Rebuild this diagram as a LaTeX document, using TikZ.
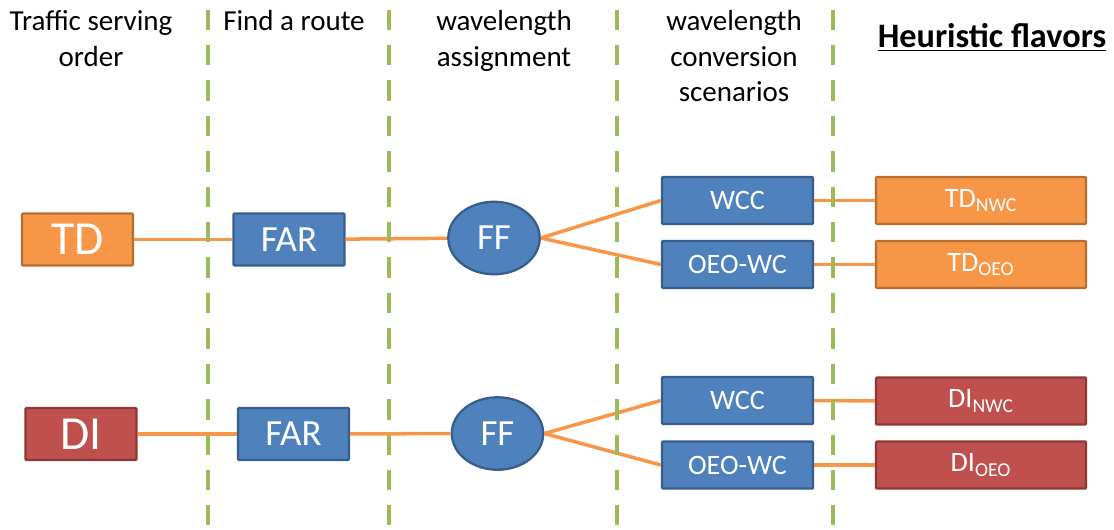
\documentclass[tikz,border=0pt]{standalone}
\usepackage{fontspec}
\setmainfont{Carlito}
\usetikzlibrary{shapes.geometric}

\definecolor{boxblue}{HTML}{4F81BD}
\definecolor{lineblue}{HTML}{385D8A}
\definecolor{boxorange}{HTML}{F79646}
\definecolor{lineorange}{HTML}{B66D31}
\definecolor{boxred}{HTML}{C0504D}
\definecolor{linered}{HTML}{8C3836}
\definecolor{sepgreen}{HTML}{9BBB59}

\begin{document}
\begin{tikzpicture}[x=0.02cm,y=-0.02cm]
        \tikzset{head/.style = {align=center, anchor=north, inner sep=0pt, font=\fontsize{16.5}{20.3}\selectfont}}
        \tikzset{stage/.style = {draw=lineblue, fill=boxblue, text=white, line width=1.3pt, inner sep=0pt, rounded corners=0.5pt}}
        \tikzset{order/.style = {stage, minimum width=2.22cm, minimum height=1.04cm, font=\fontsize{27}{30}\selectfont}}
        \tikzset{route/.style = {stage, minimum width=2.22cm, minimum height=1.04cm, font=\fontsize{21}{24}\selectfont}}
        \tikzset{assign/.style = {stage, ellipse, minimum width=1.83cm, minimum height=1.45cm, font=\fontsize{21}{24}\selectfont}}
        \tikzset{conv/.style = {stage, minimum width=3.02cm, minimum height=0.94cm, font=\fontsize{16}{19}\selectfont}}
        \tikzset{flavor/.style = {stage, minimum width=4.2cm, minimum height=0.94cm, font=\fontsize{16}{19}\selectfont}}
        \tikzset{tdcol/.style = {draw=lineorange, fill=boxorange}}
        \tikzset{dicol/.style = {draw=linered, fill=boxred}}
        \tikzset{edge/.style = {draw=boxorange, line width=2pt}}
        \tikzset{sep/.style = {draw=sepgreen, line width=2.2pt, dash pattern=on 11.6pt off 8.56pt}}
        \useasboundingbox (0,0) rectangle (1114,529);
        % headers
        \node[head] (h1) at (91,10) {Traffic serving\\order};
        \node[head] (h2) at (294,10) {Find a route};
        \node[head] (h3) at (504,10) {wavelength\\assignment};
        \node[head] (h4) at (734,10) {wavelength\\conversion\\scenarios};
        \node[head, font=\fontsize{19.5}{23}\selectfont\bfseries] (h5) at (992,23) {\underline{Heuristic flavors}};
        % vertices, upper row
        \node[order, tdcol] (td) at (77.5,239.5) {TD};
        \node[route] (far1) at (289,239.5) {FAR};
        \node[assign] (ff1) at (494,238) {FF};
        \node[conv] (wcc1) at (737.5,200.5) {WCC};
        \node[conv] (oeo1) at (737.5,264.5) {OEO-WC};
        \node[flavor, tdcol] (tdnwc) at (981,200.5) {TD\textsubscript{NWC}};
        \node[flavor, tdcol] (tdoeo) at (981,264.5) {TD\textsubscript{OEO}};
        % vertices, lower row
        \node[order, dicol] (di) at (81,434) {DI};
        \node[route] (far2) at (293.5,434) {FAR};
        \node[assign] (ff2) at (497.5,433.5) {FF};
        \node[conv] (wcc2) at (737.5,400.5) {WCC};
        \node[conv] (oeo2) at (737.5,465) {OEO-WC};
        \node[flavor, dicol] (dinwc) at (981,401) {DI\textsubscript{NWC}};
        \node[flavor, dicol] (dioeo) at (981,465) {DI\textsubscript{OEO}};
        %edges
        \draw[edge] (td) -- (far1);
        \draw[edge] (far1) -- (ff1);
        \draw[edge] (ff1.east) -- (wcc1.west);
        \draw[edge] (ff1.east) -- (oeo1.west);
        \draw[edge] (wcc1) -- (tdnwc);
        \draw[edge] (oeo1) -- (tdoeo);
        \draw[edge] (di) -- (far2);
        \draw[edge] (far2) -- (ff2);
        \draw[edge] (ff2.east) -- (wcc2.west);
        \draw[edge] (ff2.east) -- (oeo2.west);
        \draw[edge] (wcc2) -- (dinwc);
        \draw[edge] (oeo2) -- (dioeo);
        % separators
        \foreach \x in {208,389,617,833}
            \draw[sep] (\x,9.5) -- (\x,525);
\end{tikzpicture}
\end{document}
